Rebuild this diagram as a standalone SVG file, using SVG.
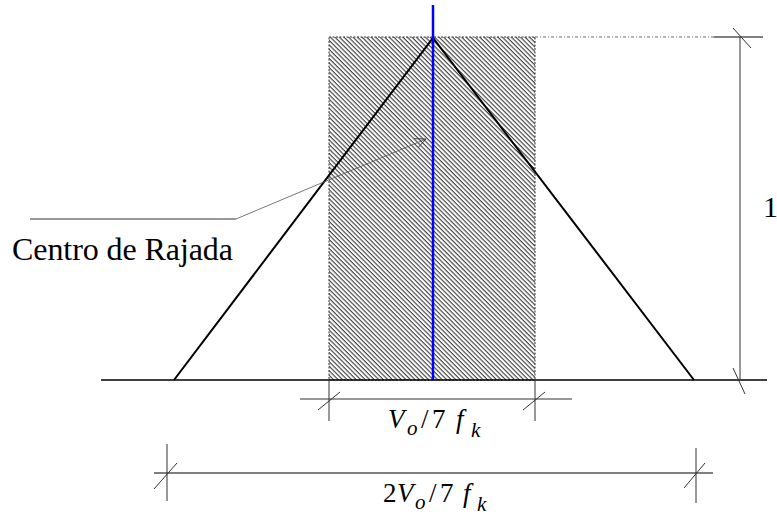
<svg xmlns="http://www.w3.org/2000/svg" width="777" height="515" viewBox="0 0 777 515">
<style>
.ln{stroke:#000;stroke-width:2;fill:none}
.thin{stroke:#333;stroke-width:1;fill:none}
.txt{font-family:"Liberation Serif","Times New Roman",serif;fill:#000}
.it{font-style:italic}
</style>
<defs>
<pattern id="hatch" patternUnits="userSpaceOnUse" width="3.2" height="3.2" patternTransform="rotate(45)">
<rect width="3.2" height="3.2" fill="#fff"/>
<line x1="0" y1="0.6" x2="3.2" y2="0.6" stroke="#3a3a3a" stroke-width="1.1"/>
</pattern>
<marker id="arr" markerWidth="12" markerHeight="10" refX="11" refY="5" orient="auto" markerUnits="userSpaceOnUse">
<path d="M0,0 L11,5 L0,10" fill="none" stroke="#333" stroke-width="0.8"/>
</marker>
</defs>
<g id="hatched-area">
<rect x="329" y="37" width="206" height="343" fill="url(#hatch)" stroke="#333" stroke-width="1" stroke-dasharray="2,1.5"/>
</g>
<g id="triangle">
<polyline class="ln" points="174,380 433,38 694,380"/>
</g>
<g id="axis">
<line x1="433" y1="5" x2="433" y2="380" stroke="#0000ff" stroke-width="2.5"/>
</g>
<g id="connectors">
<line x1="101" y1="380" x2="767" y2="380" stroke="#000" stroke-width="1.5"/>
<line x1="535" y1="37" x2="714" y2="37" stroke="#666" stroke-width="1" stroke-dasharray="3,2,1,2"/>
<line x1="714" y1="37" x2="763" y2="37" stroke="#000" stroke-width="1.2"/>
<line x1="740" y1="37" x2="740" y2="380" class="thin"/>
<line x1="733" y1="28" x2="751" y2="48" class="thin"/>
<line x1="733" y1="368" x2="745" y2="394" class="thin"/>
<line x1="300" y1="399" x2="572" y2="399" class="thin"/>
<line x1="329" y1="380" x2="329" y2="421" class="thin"/>
<line x1="535" y1="380" x2="535" y2="421" class="thin"/>
<line x1="318" y1="410" x2="340" y2="392" class="thin"/>
<line x1="523" y1="410" x2="545" y2="392" class="thin"/>
<line x1="154" y1="473" x2="713" y2="473" stroke="#555" stroke-width="1.3"/>
<line x1="167" y1="444" x2="167" y2="501" class="thin"/>
<line x1="696" y1="448" x2="696" y2="503" class="thin"/>
<line x1="154" y1="489" x2="177" y2="463" class="thin"/>
<line x1="684" y1="488" x2="705" y2="463" class="thin"/>
<line x1="30" y1="219" x2="236" y2="219" stroke="#333" stroke-width="1.2"/>
<line x1="236" y1="219" x2="426" y2="139" stroke="#555" stroke-width="0.8" marker-end="url(#arr)"/>
</g>
<g id="labels" font-family="'Liberation Serif', serif">
<text class="txt" x="12" y="260" font-size="32" textLength="221">Centro de Rajada</text>
<text class="txt" x="763" y="217" font-size="30">1</text>
<text class="txt" font-size="27" y="428"><tspan class="it" x="388">V</tspan><tspan class="it" font-size="21" x="407" y="435">o</tspan><tspan x="421" y="428">/</tspan><tspan x="432">7</tspan><tspan class="it" x="456">f</tspan><tspan class="it" font-size="21" x="471" y="437">k</tspan></text>
<text class="txt" font-size="27" y="502"><tspan x="383">2</tspan><tspan class="it" x="397">V</tspan><tspan class="it" font-size="21" x="415" y="509">o</tspan><tspan x="429" y="502">/</tspan><tspan x="440">7</tspan><tspan class="it" x="463">f</tspan><tspan class="it" font-size="21" x="477" y="511">k</tspan></text>
</g>
</svg>
